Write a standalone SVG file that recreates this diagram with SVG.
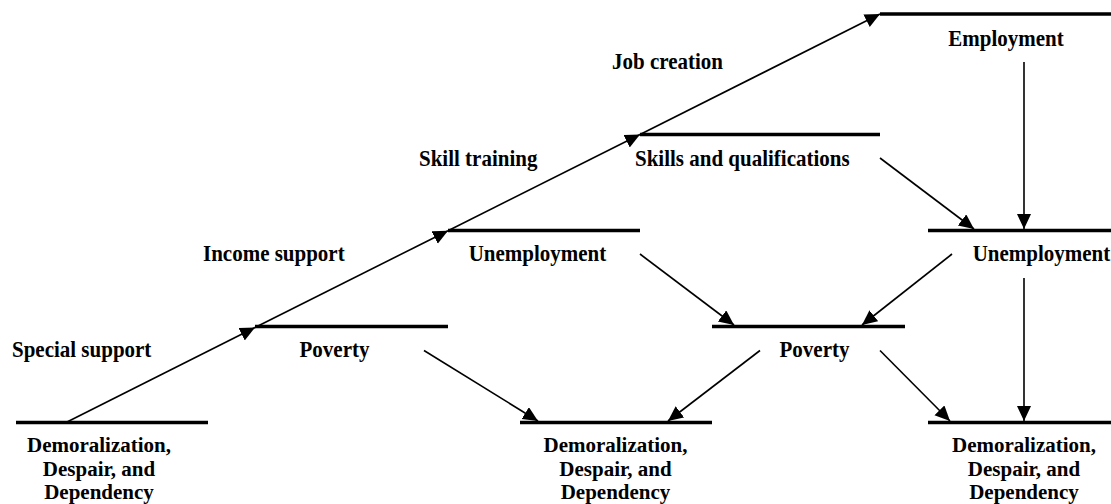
<svg xmlns="http://www.w3.org/2000/svg" width="1111" height="504" viewBox="0 0 1111 504">
  <style>
    .bar { stroke: #000; stroke-width: 3.5; fill: none; }
    .link { stroke: #000; stroke-width: 1.6; fill: none; marker-end: url(#head); }
    text { font-family: "Liberation Serif", "Times New Roman", serif; font-weight: bold; font-size: 23.5px; fill: #000; }
    .c { text-anchor: middle; }
    .stack { font-size: 21.5px; }
  </style>
  <defs>
    <marker id="head" markerUnits="userSpaceOnUse" markerWidth="16" markerHeight="15" refX="15" refY="7" orient="auto">
      <path d="M0,0 L15,7 L0,14 Z" fill="#000"/>
    </marker>
  </defs>

  <!-- labels are set in a slightly condensed serif: translate to the anchor, then narrow horizontally -->

  <!-- connectors -->
  <g id="connectors">
    <!-- main rising line, one arrowhead per step -->
    <line class="link" x1="67" y1="422" x2="255" y2="327.5"/>
    <line class="link" x1="255" y1="327.5" x2="448" y2="230.7"/>
    <line class="link" x1="448" y1="230.7" x2="640" y2="134.5"/>
    <line class="link" x1="640" y1="134.5" x2="880" y2="14"/>
    <!-- downward causal links -->
    <line class="link" x1="1024" y1="62" x2="1024" y2="229"/>
    <line class="link" x1="880" y1="158" x2="974" y2="229"/>
    <line class="link" x1="952" y1="254" x2="862" y2="325"/>
    <line class="link" x1="640" y1="254" x2="734" y2="325"/>
    <line class="link" x1="1024" y1="278" x2="1024" y2="421"/>
    <line class="link" x1="424" y1="350.5" x2="538" y2="421"/>
    <line class="link" x1="760" y1="350.5" x2="668" y2="421"/>
    <line class="link" x1="880" y1="350.5" x2="950" y2="421"/>
    <!-- connector labels -->
    <text transform="translate(12 357) scale(0.894 1)">Special support</text>
    <text transform="translate(203 261) scale(0.894 1)">Income support</text>
    <text transform="translate(419 166) scale(0.894 1)">Skill training</text>
    <text transform="translate(612 69) scale(0.894 1)">Job creation</text>
  </g>

  <g id="demoralization-1">
    <line class="bar" x1="16" y1="422.5" x2="208" y2="422.5"/>
    <text class="c stack" transform="translate(99 451.5) scale(0.977 1)">Demoralization,</text>
    <text class="c stack" transform="translate(99 475.5) scale(0.977 1)">Despair, and</text>
    <text class="c stack" transform="translate(99 499) scale(0.977 1)">Dependency</text>
  </g>

  <g id="poverty-1">
    <line class="bar" x1="255" y1="326.5" x2="448" y2="326.5"/>
    <text class="c" transform="translate(334.5 357) scale(0.894 1)">Poverty</text>
  </g>

  <g id="unemployment-1">
    <line class="bar" x1="448" y1="230.5" x2="640" y2="230.5"/>
    <text class="c" transform="translate(537.5 261) scale(0.894 1)">Unemployment</text>
  </g>

  <g id="skills">
    <line class="bar" x1="640" y1="134.5" x2="880" y2="134.5"/>
    <text transform="translate(635 166) scale(0.894 1)">Skills and qualifications</text>
  </g>

  <g id="employment">
    <line class="bar" x1="880" y1="14" x2="1111" y2="14"/>
    <text class="c" transform="translate(1006 45.5) scale(0.894 1)">Employment</text>
  </g>

  <g id="unemployment-2">
    <line class="bar" x1="928" y1="230.5" x2="1111" y2="230.5"/>
    <text class="c" transform="translate(1041.5 261) scale(0.894 1)">Unemployment</text>
  </g>

  <g id="poverty-2">
    <line class="bar" x1="712" y1="326.5" x2="905" y2="326.5"/>
    <text class="c" transform="translate(814.5 357) scale(0.894 1)">Poverty</text>
  </g>

  <g id="demoralization-2">
    <line class="bar" x1="520" y1="422.5" x2="712" y2="422.5"/>
    <text class="c stack" transform="translate(615.5 451.5) scale(0.977 1)">Demoralization,</text>
    <text class="c stack" transform="translate(615.5 475.5) scale(0.977 1)">Despair, and</text>
    <text class="c stack" transform="translate(615.5 499) scale(0.977 1)">Dependency</text>
  </g>

  <g id="demoralization-3">
    <line class="bar" x1="928" y1="422.5" x2="1111" y2="422.5"/>
    <text class="c stack" transform="translate(1024 451.5) scale(0.977 1)">Demoralization,</text>
    <text class="c stack" transform="translate(1024 475.5) scale(0.977 1)">Despair, and</text>
    <text class="c stack" transform="translate(1024 499) scale(0.977 1)">Dependency</text>
  </g>
</svg>
